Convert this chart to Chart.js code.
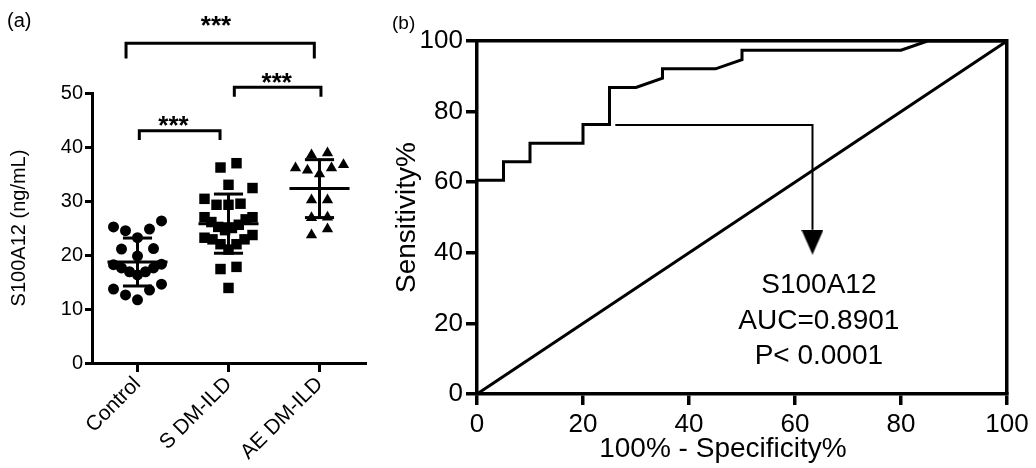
<!DOCTYPE html>
<html><head><meta charset="utf-8">
<script src="https://cdn.jsdelivr.net/npm/chart.js@4"></script>
<style>
html,body{margin:0;padding:0;background:#fff;width:1036px;height:468px;overflow:hidden}
#wa{position:absolute;left:0;top:0;width:380px;height:468px}
#wb{position:absolute;left:380px;top:0;width:656px;height:468px}
</style></head><body>
<div id="wa"><canvas id="ca"></canvas></div>
<div id="wb"><canvas id="cb"></canvas></div>
<script>
// ---------- Panel (a) data ----------
const categories = ['Control', 'S DM-ILD', 'AE DM-ILD'];
const controlValues = [25.2, 24.5, 23.2, 24.8, 26.3, 21.2, 21.1, 19.8, 18.2, 17.6, 16.9, 16.3, 16.9, 17.6, 18.3, 14.6, 13.5, 13.7, 12.6, 11.7];
const sDmIldValues = [36.2, 37.0, 33.0, 32.4, 30.4, 29.5, 29.3, 29.3, 27.0, 26.6, 27.0, 26.1, 25.6, 25.2, 25.0, 24.6, 23.7, 22.9, 22.0, 21.0, 22.0, 22.9, 23.2, 17.8, 17.4, 13.9];
const aeDmIldValues = [38.5, 38.9, 35.7, 36.1, 36.7, 36.1, 35.0, 30.2, 30.2, 26.9, 27.0, 23.7, 24.8];
const yTicksA = [0, 10, 20, 30, 40, 50];
// significance brackets: x from/to (category units), bracket level, drop, star position
const bracketFrom = [-0.126, 0.02, 1.064];
const bracketTo = [1.943, 0.907, 2.016];
const bracketLevel = [59.2, 43.0, 51.05];
const bracketDrop = [2.8, 1.7, 1.75];
const starX = [0.863, 0.396, 1.53];
const starY = [63.7, 45.1, 53.1];
const starLabels = ['***', '***', '***'];

// ---------- Panel (b) data ----------
const rocFpr = [0, 5, 5, 10, 10, 20, 20, 25, 25, 30, 35, 35, 45, 50, 50, 80, 85, 100];
const rocSens = [60.53, 60.53, 65.79, 65.79, 71.05, 71.05, 76.32, 76.32, 86.84, 86.84, 89.47, 92.11, 92.11, 94.74, 97.37, 97.37, 100, 100];
const chanceX = [0, 100];
const chanceY = [0, 100];
const xTicksB = [0, 20, 40, 60, 80, 100];
const yTicksB = [0, 20, 40, 60, 80, 100];
const arrowX = [26.1, 63.3, 63.3];
const arrowY = [76.2, 76.2, 46.5];
const arrowHeadX = [63.3];
const arrowHeadY = [43.0];
const rocText = ['S100A12', 'AUC=0.8901', 'P< 0.0001'];
const rocTextX = 64.5;
const rocTextY = [30.9, 20.5, 10.6];
const xTitleB = '100% - Specificity%';
const yTitleB = 'Sensitivity%';

// ---------- helpers ----------
const FONT = '"Liberation Sans", Arial, Helvetica, sans-serif';
const BLACK = '#000';

// GraphPad-like row swarm (layout only, derived from values)
const PX_PER_CAT = 91;
const ROW_H = 3.2, MAX_SP = 16, MAX_W = 48;
function swarm(values, center) {
  const s = values.slice().sort((a, b) => a - b);
  const pts = [];
  let i = 0;
  while (i < s.length) {
    const start = s[i];
    const row = [];
    while (i < s.length && s[i] < start + ROW_H) row.push(s[i++]);
    const n = row.length;
    const sp = n > 1 ? Math.min(MAX_SP, MAX_W / (n - 1)) : 0;
    const slots = [];
    if (n % 2 === 1) { slots.push(0); for (let k = 1; slots.length < n; k++) { slots.push(-k); if (slots.length < n) slots.push(k); } }
    else { for (let k = 0.5; slots.length < n; k++) { slots.push(-k); slots.push(k); } }
    row.forEach((v, k) => pts.push({ x: center + slots[k] * sp / PX_PER_CAT, y: v }));
  }
  return pts;
}
function meanSd(v) {
  const m = v.reduce((a, b) => a + b, 0) / v.length;
  const sd = Math.sqrt(v.reduce((a, b) => a + (b - m) * (b - m), 0) / (v.length - 1));
  return [m, sd];
}
function lineDs(points, width) {
  return { type: 'scatter', data: points, showLine: true, borderColor: BLACK, borderWidth: width,
    pointRadius: 0, pointHoverRadius: 0, fill: false, tension: 0, clip: false, borderJoinStyle: 'miter', borderCapStyle: 'butt' };
}

// ---------- Panel (a) ----------
const groups = [controlValues, sDmIldValues, aeDmIldValues];
const styles = [{ ps: 'circle', r: 5.5 }, { ps: 'rect', r: 7.4 }, { ps: 'triangle', r: 6.5 }];
const dsA = [];
groups.forEach((g, i) => {
  const [m, sd] = meanSd(g);
  dsA.push(lineDs([{ x: i - 0.33, y: m }, { x: i + 0.33, y: m }], 3));
  dsA.push(lineDs([{ x: i, y: m - sd }, { x: i, y: m + sd }], 3));
  dsA.push(lineDs([{ x: i - 0.16, y: m + sd }, { x: i + 0.16, y: m + sd }], 3));
  dsA.push(lineDs([{ x: i - 0.16, y: m - sd }, { x: i + 0.16, y: m - sd }], 3));
});
groups.forEach((g, i) => {
  dsA.push({ type: 'scatter', data: swarm(g, i), pointStyle: styles[i].ps, pointRadius: styles[i].r,
    pointHoverRadius: styles[i].r, backgroundColor: BLACK, borderColor: BLACK, borderWidth: 0, showLine: false, clip: false });
});
bracketFrom.forEach((f, i) => {
  const t = bracketTo[i], L = bracketLevel[i], d = bracketDrop[i];
  dsA.push(lineDs([{ x: f, y: L - d }, { x: f, y: L }, { x: t, y: L }, { x: t, y: L - d }], 3));
});

const annotA = {
  id: 'annotA',
  afterDatasetsDraw(chart) {
    const { ctx, scales: { x, y } } = chart;
    ctx.save();
    ctx.fillStyle = BLACK;
    ctx.textAlign = 'center';
    ctx.textBaseline = 'alphabetic';
    ctx.font = 'bold 26px ' + FONT;
    starLabels.forEach((s, i) => ctx.fillText(s, x.getPixelForValue(starX[i]), y.getPixelForValue(starY[i]) + 0.575 * 26));
    ctx.font = '20px ' + FONT;
    ctx.textAlign = 'left';
    ctx.textBaseline = 'middle';
    ctx.fillText('(a)', 7, 21);
    ctx.restore();
  }
};

const axisA = (tickLen) => ({
  grid: { display: true, drawOnChartArea: false, drawTicks: true, tickLength: tickLen, color: BLACK, lineWidth: 3 },
  border: { display: true, color: BLACK, width: 3 }
});

new Chart(document.getElementById('ca'), {
  type: 'scatter',
  data: { datasets: dsA },
  options: {
    responsive: true, maintainAspectRatio: false, animation: false,
    layout: { padding: { left: 0, right: 15, top: 93, bottom: 0 } },
    plugins: { legend: { display: false }, tooltip: { enabled: false } },
    events: [],
    scales: {
      x: Object.assign({
        type: 'linear', min: -0.5, max: 2.5,
        afterBuildTicks: s => { s.ticks = categories.map((c, i) => ({ value: i })); },
        ticks: { autoSkip: false, minRotation: 45, maxRotation: 45, padding: 0, color: BLACK,
          font: { family: FONT, size: 21 }, callback: v => categories[v] !== undefined ? categories[v] : '' },
        afterFit: s => { s.height = 105; }
      }, axisA(9)),
      y: Object.assign({
        type: 'linear', min: 0, max: 50,
        afterBuildTicks: s => { s.ticks = yTicksA.map(v => ({ value: v })); },
        ticks: { padding: 2, color: BLACK, font: { family: FONT, size: 20 } },
        title: { display: true, text: 'S100A12 (ng/mL)', color: BLACK, font: { family: FONT, size: 20 }, padding: { top: 7, bottom: 0 } },
        afterFit: s => { s.width = 92; }
      }, axisA(7))
    }
  },
  plugins: [annotA]
});

// ---------- Panel (b) ----------
const headImg = document.createElement('canvas');
headImg.width = 22; headImg.height = 25;
(() => { const c = headImg.getContext('2d'); c.fillStyle = BLACK; c.beginPath(); c.moveTo(0, 0); c.lineTo(22, 0); c.lineTo(11, 25); c.closePath(); c.fill(); })();

const dsB = [
  Object.assign(lineDs(rocFpr.map((x, i) => ({ x, y: rocSens[i] })), 3), { clip: 4 }),
  Object.assign(lineDs(chanceX.map((x, i) => ({ x, y: chanceY[i] })), 3), { clip: 4 }),
  lineDs(arrowX.map((x, i) => ({ x, y: arrowY[i] })), 2),
  { type: 'scatter', data: arrowHeadX.map((x, i) => ({ x, y: arrowHeadY[i] })), pointStyle: headImg,
    pointRadius: 12, showLine: false, clip: false }
];

const annotB = {
  id: 'annotB',
  afterDatasetsDraw(chart) {
    const { ctx, scales: { x, y } } = chart;
    ctx.save();
    ctx.fillStyle = BLACK;
    ctx.textAlign = 'center';
    ctx.textBaseline = 'middle';
    ctx.font = '28px ' + FONT;
    rocText.forEach((t, i) => ctx.fillText(t, x.getPixelForValue(rocTextX), y.getPixelForValue(rocTextY[i])));
    // x-axis title (sits left of the plot centre in the original)
    ctx.fillText(xTitleB, x.getPixelForValue(46.4), 449);
    ctx.font = '19px ' + FONT;
    ctx.textAlign = 'left';
    ctx.fillText('(b)', 12, 24);
    ctx.restore();
  }
};

const axisB = (tickLen) => ({
  grid: { display: true, drawOnChartArea: false, drawTicks: true, tickLength: tickLen, color: BLACK, lineWidth: 3.5 },
  border: { display: true, color: BLACK, width: 3.5 }
});

new Chart(document.getElementById('cb'), {
  type: 'scatter',
  data: { datasets: dsB },
  options: {
    responsive: true, maintainAspectRatio: false, animation: false,
    layout: { padding: { left: 0, right: 29, top: 41, bottom: 0 } },
    plugins: { legend: { display: false }, tooltip: { enabled: false } },
    events: [],
    scales: {
      x: Object.assign({
        type: 'linear', min: 0, max: 100,
        afterBuildTicks: s => { s.ticks = xTicksB.map(v => ({ value: v })); },
        ticks: { padding: 4, color: BLACK, maxRotation: 0, autoSkip: false, font: { family: FONT, size: 26 } },
        title: { display: false },
        afterFit: s => { s.height = 74; }
      }, axisB(11)),
      y: Object.assign({
        type: 'linear', min: 0, max: 100,
        afterBuildTicks: s => { s.ticks = yTicksB.map(v => ({ value: v })); },
        ticks: { padding: 3, color: BLACK, font: { family: FONT, size: 26 } },
        title: { display: true, text: yTitleB, color: BLACK, font: { family: FONT, size: 28 }, padding: { top: 10, bottom: 0 } },
        afterFit: s => { s.width = 97; }
      }, axisB(11)),
      x2: { type: 'linear', position: 'top', display: true, min: 0, max: 100,
        ticks: { display: false }, grid: { display: false, drawTicks: false },
        border: { display: true, color: BLACK, width: 3.5 }, afterFit: s => { s.height = 0; } },
      y2: { type: 'linear', position: 'right', display: true, min: 0, max: 100,
        ticks: { display: false }, grid: { display: false, drawTicks: false },
        border: { display: true, color: BLACK, width: 3.5 }, afterFit: s => { s.width = 0; } }
    }
  },
  plugins: [annotB]
});
</script>
</body></html>
